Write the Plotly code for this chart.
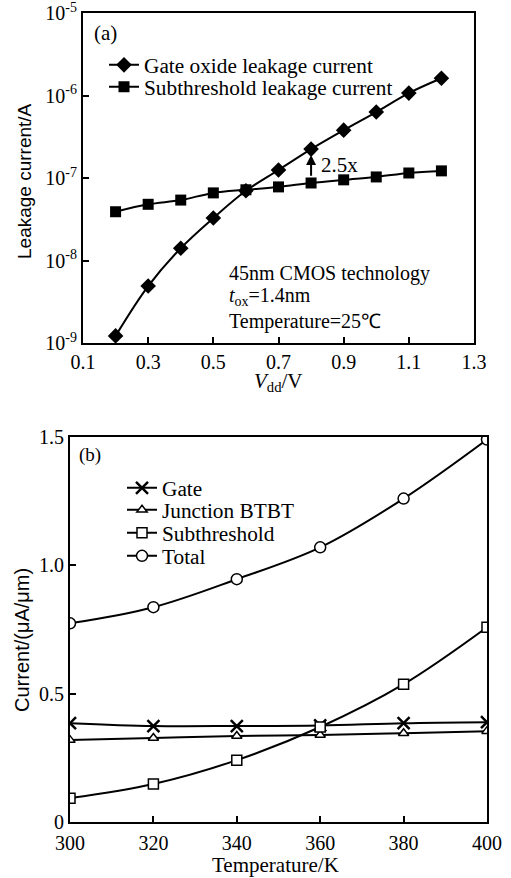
import numpy as np
import plotly.graph_objects as go

# ---- data (a) ----
vdd = [0.2, 0.3, 0.4, 0.5, 0.6, 0.7, 0.8, 0.9, 1.0, 1.1, 1.2]
gate_oxide = [1.22e-9, 4.9e-9, 1.41e-8, 3.27e-8, 7.0e-8, 1.25e-7, 2.24e-7, 3.8e-7, 6.3e-7, 1.07e-6, 1.62e-6]
subthreshold_a = [3.9e-8, 4.8e-8, 5.4e-8, 6.6e-8, 7.2e-8, 7.8e-8, 8.7e-8, 9.5e-8, 1.03e-7, 1.15e-7, 1.22e-7]
xa_tickvals = [0.1, 0.3, 0.5, 0.7, 0.9, 1.1, 1.3]
ya_tickvals = [1e-9, 1e-8, 1e-7, 1e-6, 1e-5]
ya_ticktext = ["10<sup>-9</sup>", "10<sup>-8</sup>", "10<sup>-7</sup>", "10<sup>-6</sup>", "10<sup>-5</sup>"]

# ---- data (b) ----
temp = [300, 320, 340, 360, 380, 400]
gate_b = [0.385, 0.374, 0.374, 0.376, 0.385, 0.389]
btbt = [0.319, 0.327, 0.335, 0.339, 0.346, 0.354]
subthreshold_b = [0.093, 0.148, 0.241, 0.37, 0.537, 0.759]
total = [0.774, 0.837, 0.946, 1.07, 1.26, 1.49]
yb_tickvals = [0, 0.5, 1.0, 1.5]
yb_ticktext = ["0", "0.5", "1.0", "1.5"]

W, H = 511, 878
SERIF = "Liberation Serif"
SANS = "Liberation Sans"
FS_TICK = 20
FS_LEG = 21.3
FS_TXT = 21
BLACK = "black"


def px_x(p):
    return p / W


def px_y(p):
    return 1 - p / H


fig = go.Figure()

# (a)
fig.add_trace(go.Scatter(x=vdd, y=gate_oxide, mode="lines+markers", name="Gate oxide leakage current",
                         line=dict(color=BLACK, width=2, shape="spline"),
                         marker=dict(symbol="diamond", size=12, color=BLACK),
                         xaxis="x", yaxis="y", legend="legend"))
fig.add_trace(go.Scatter(x=vdd, y=subthreshold_a, mode="lines+markers", name="Subthreshold leakage current",
                         line=dict(color=BLACK, width=2, shape="spline"),
                         marker=dict(symbol="square", size=11, color=BLACK),
                         xaxis="x", yaxis="y", legend="legend2"))

# (b)
fig.add_trace(go.Scatter(x=temp, y=gate_b, mode="lines+markers", name="Gate",
                         line=dict(color=BLACK, width=2, shape="spline"),
                         marker=dict(symbol="x-thin", size=12, color=BLACK, line=dict(color=BLACK, width=2.5)),
                         xaxis="x2", yaxis="y2", legend="legend3"))
fig.add_trace(go.Scatter(x=temp, y=btbt, mode="lines+markers", name="Junction BTBT",
                         line=dict(color=BLACK, width=2, shape="spline"),
                         marker=dict(symbol="triangle-up", size=9, color="white", line=dict(color=BLACK, width=1.5)),
                         xaxis="x2", yaxis="y2", legend="legend4"))
fig.add_trace(go.Scatter(x=temp, y=subthreshold_b, mode="lines+markers", name="Subthreshold",
                         line=dict(color=BLACK, width=2, shape="spline"),
                         marker=dict(symbol="square", size=10, color="white", line=dict(color=BLACK, width=1.5)),
                         xaxis="x2", yaxis="y2", legend="legend5"))
fig.add_trace(go.Scatter(x=temp, y=total, mode="lines+markers", name="Total",
                         line=dict(color=BLACK, width=2, shape="spline"),
                         marker=dict(symbol="circle", size=11, color="white", line=dict(color=BLACK, width=1.5)),
                         xaxis="x2", yaxis="y2", legend="legend6"))

axis_common = dict(showline=True, linecolor=BLACK, linewidth=2, mirror=True, ticks="inside",
                   ticklen=6, tickwidth=1.5, tickcolor=BLACK, showgrid=False, zeroline=False,
                   automargin=False, ticklabeloverflow="allow",
                   tickfont=dict(family=SERIF, size=FS_TICK, color=BLACK))


def leg(xp, yp):
    return dict(x=px_x(xp), y=px_y(yp), xanchor="left", yanchor="middle", bgcolor="rgba(0,0,0,0)",
                font=dict(family=SERIF, size=FS_LEG, color=BLACK), itemwidth=30, tracegroupgap=0,
                borderwidth=0)


fig.update_layout(
    width=W, height=H, autosize=False,
    margin=dict(l=0, r=0, t=0, b=0, pad=0),
    paper_bgcolor="white", plot_bgcolor="white",
    font=dict(family=SERIF, size=FS_TXT, color=BLACK),
    xaxis=dict(domain=[px_x(83), px_x(474)], range=[0.1, 1.3], tickvals=xa_tickvals,
               tickformat=".1f", anchor="y", **axis_common),
    yaxis=dict(domain=[px_y(343), px_y(13)], type="log", range=[-9, -5], tickvals=ya_tickvals,
               ticktext=ya_ticktext, anchor="x", **axis_common),
    xaxis2=dict(domain=[px_x(70), px_x(487)], range=[300, 400], dtick=20, anchor="y2",
                ticklabelstandoff=2, **axis_common),
    yaxis2=dict(domain=[px_y(822), px_y(437)], range=[0, 1.5], tickvals=yb_tickvals,
                ticktext=yb_ticktext, anchor="x2", **axis_common),
    legend=leg(104, 65),
    legend2=leg(104, 87),
    legend3=leg(122, 488),
    legend4=leg(122, 510),
    legend5=leg(122, 533),
    legend6=leg(122, 556),
    showlegend=True,
)

idx = 6  # Vdd = 0.8
note_top = ("<span style='font-size:20px'>45nm CMOS technology</span><br>"
            "<span style='font-size:20px'><i>t</i><sub>ox</sub>=1.4nm</span>")
ann = [
    dict(x=px_x(92), y=px_y(33), xref="paper", yref="paper", text="(a)", showarrow=False,
         xanchor="left", yanchor="middle"),
    dict(x=px_x(77), y=px_y(455), xref="paper", yref="paper", text="(b)", showarrow=False,
         xanchor="left", yanchor="middle", font=dict(size=19)),
    dict(x=vdd[idx], y=np.log10(gate_oxide[idx]) - 0.07, ax=vdd[idx], ay=np.log10(subthreshold_a[idx]) + 0.07,
         xref="x", yref="y", axref="x", ayref="y", text="", showarrow=True, arrowhead=2,
         arrowsize=1, arrowwidth=2, arrowcolor=BLACK),
    dict(x=vdd[idx] + 0.025, y=np.log10(1.45e-7), xref="x", yref="y", text="2.5x", showarrow=False,
         xanchor="left", yanchor="middle"),
    dict(x=px_x(227), y=px_y(285), xref="paper", yref="paper", text=note_top,
         showarrow=False, xanchor="left", yanchor="middle", align="left", font=dict(size=17)),
    dict(x=px_x(227), y=px_y(321), xref="paper", yref="paper", text="Temperature=25℃",
         showarrow=False, xanchor="left", yanchor="middle", align="left", font=dict(size=20)),
    dict(x=px_x(25), y=px_y(181), xref="paper", yref="paper", text="Leakage current/A",
         showarrow=False, textangle=-90, xanchor="center", yanchor="middle",
         font=dict(family=SANS, size=19)),
    dict(x=px_x(278), y=px_y(382), xref="paper", yref="paper", text="<i>V</i><sub>dd</sub>/V",
         showarrow=False, xanchor="center", yanchor="middle"),
    dict(x=px_x(22), y=px_y(640), xref="paper", yref="paper", text="Current/(μA/μm)",
         showarrow=False, textangle=-90, xanchor="center", yanchor="middle",
         font=dict(family=SANS, size=20)),
    dict(x=px_x(275), y=px_y(865), xref="paper", yref="paper", text="Temperature/K",
         showarrow=False, xanchor="center", yanchor="middle", font=dict(size=21)),
]
fig.update_layout(annotations=ann)

fig.write_html("out.html", config={"displayModeBar": False},
               post_script="document.body.style.margin='0px';")
